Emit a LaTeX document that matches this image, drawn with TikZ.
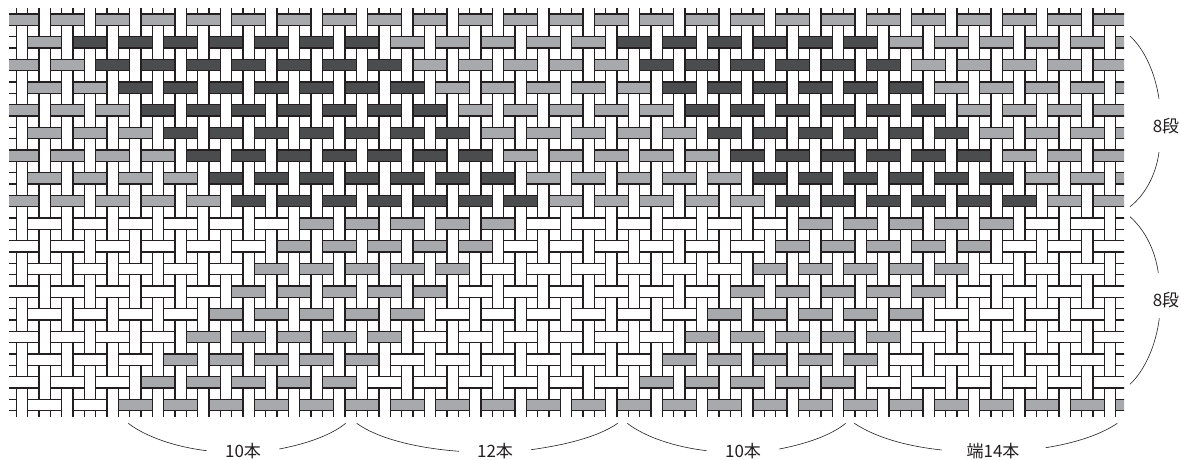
\documentclass[tikz,border=0pt]{standalone}
\usepackage{fontspec}
\setmainfont{Noto Sans CJK JP}
\definecolor{inkline}{HTML}{231F20}
\definecolor{midgray}{HTML}{A7A9AC}
\definecolor{darkgray}{HTML}{4B4C4E}
\newcommand{\bandcolor}[2]{%
  \edef\thisfill{white}%
  \ifnum#2>-1
  \ifnum#1<1 \edef\thisfill{midgray}%
  \else\ifnum#1<9
    \edef\thisfill{midgray}%
    \ifnum#2>\numexpr#1+1\relax\ifnum#2<\numexpr#1+15\relax\edef\thisfill{darkgray}\fi\fi
    \ifnum#2>\numexpr#1+25\relax\ifnum#2<\numexpr#1+37\relax\edef\thisfill{darkgray}\fi\fi
  \else\ifnum#1<17
    \ifnum#2>\numexpr21-#1\relax\ifnum#2<\numexpr31-#1\relax\edef\thisfill{midgray}\fi\fi
    \ifnum#2>\numexpr43-#1\relax\ifnum#2<\numexpr53-#1\relax\edef\thisfill{midgray}\fi\fi
  \else
    \ifnum#2>4 \edef\thisfill{midgray}\fi
  \fi\fi\fi
  \fi}
\tikzset{
  strand/.style={draw=inkline,line width=1.25pt,line join=miter},
  brace/.style={draw=inkline,line width=0.6pt},
  lbl/.style={text=inkline,font=\fontsize{17pt}{18pt}\selectfont,inner sep=0pt,anchor=center}
}
\begin{document}
\begin{tikzpicture}[x=1pt,y=-1pt]
\useasboundingbox (0,0) rectangle (1181,459);
\fill[white] (0,0) rectangle (1181,459);
\begin{scope}
\clip (9,8.3) rectangle (1124,416.7);
\foreach \r in {-1,...,18}{
  \foreach \c in {-1,...,49}{
    \pgfmathsetmacro{\px}{22+22.667*\c}
    \pgfmathsetmacro{\py}{19.7+22.667*\r}
    \ifodd\numexpr\r+\c+2\relax
      \draw[strand,fill=white] (\px-5.6,\py-17.07) rectangle (\px+5.6,\py+17.07);
    \else
      \bandcolor{\r}{\c}
      \draw[strand,fill=\thisfill] (\px-17.07,\py-5.6) rectangle (\px+17.07,\py+5.6);
    \fi
  }
}
\end{scope}
\node[lbl] (a) at (243,451) {10本};
\node[lbl] (b) at (495,451) {12本};
\node[lbl] (c) at (743,451) {10本};
\node[lbl] (d) at (993,451) {端14本};
\node[lbl] (e) at (1166,126) {8段};
\node[lbl] (f) at (1166,300) {8段};
\coordinate (a1) at (128.3,423.3); \coordinate (a2) at (206.7,450.7);
\coordinate (a3) at (279.3,449);   \coordinate (a4) at (345.7,423.3);
\coordinate (b1) at (356.7,423.3); \coordinate (b2) at (459,451.3);
\coordinate (b3) at (531,449.7);   \coordinate (b4) at (617.7,423.3);
\coordinate (c1) at (627.3,423.3); \coordinate (c2) at (706.7,450.7);
\coordinate (c3) at (779.3,449);   \coordinate (c4) at (845.7,423.3);
\coordinate (d1) at (854.3,423.3); \coordinate (d2) at (941.7,450);
\coordinate (d3) at (1045.7,447.7);\coordinate (d4) at (1117.3,423.3);
\coordinate (e1) at (1130,36);     \coordinate (e2) at (1159,98.7);
\coordinate (e3) at (1159,152);    \coordinate (e4) at (1130,206.7);
\coordinate (f1) at (1130,216.7);  \coordinate (f2) at (1158.3,272.7);
\coordinate (f3) at (1159.3,318.3);\coordinate (f4) at (1130,384.3);
\draw[brace] (a1) .. controls (146,437) and (176,447) .. (a2);
\draw[brace] (a3) .. controls (305,444) and (330,436) .. (a4);
\draw[brace] (b1) .. controls (377,438) and (415,448) .. (b2);
\draw[brace] (b3) .. controls (565,445) and (598,437) .. (b4);
\draw[brace] (c1) .. controls (645,437) and (675,447) .. (c2);
\draw[brace] (c3) .. controls (805,444) and (830,436) .. (c4);
\draw[brace] (d1) .. controls (875,437) and (905,446) .. (d2);
\draw[brace] (d3) .. controls (1075,443) and (1100,435) .. (d4);
\draw[brace] (e1) .. controls (1145,50) and (1155,73) .. (e2);
\draw[brace] (e3) .. controls (1156,175) and (1145,195) .. (e4);
\draw[brace] (f1) .. controls (1145,230) and (1155,250) .. (f2);
\draw[brace] (f3) .. controls (1156,345) and (1145,370) .. (f4);
\end{tikzpicture}
\end{document}
